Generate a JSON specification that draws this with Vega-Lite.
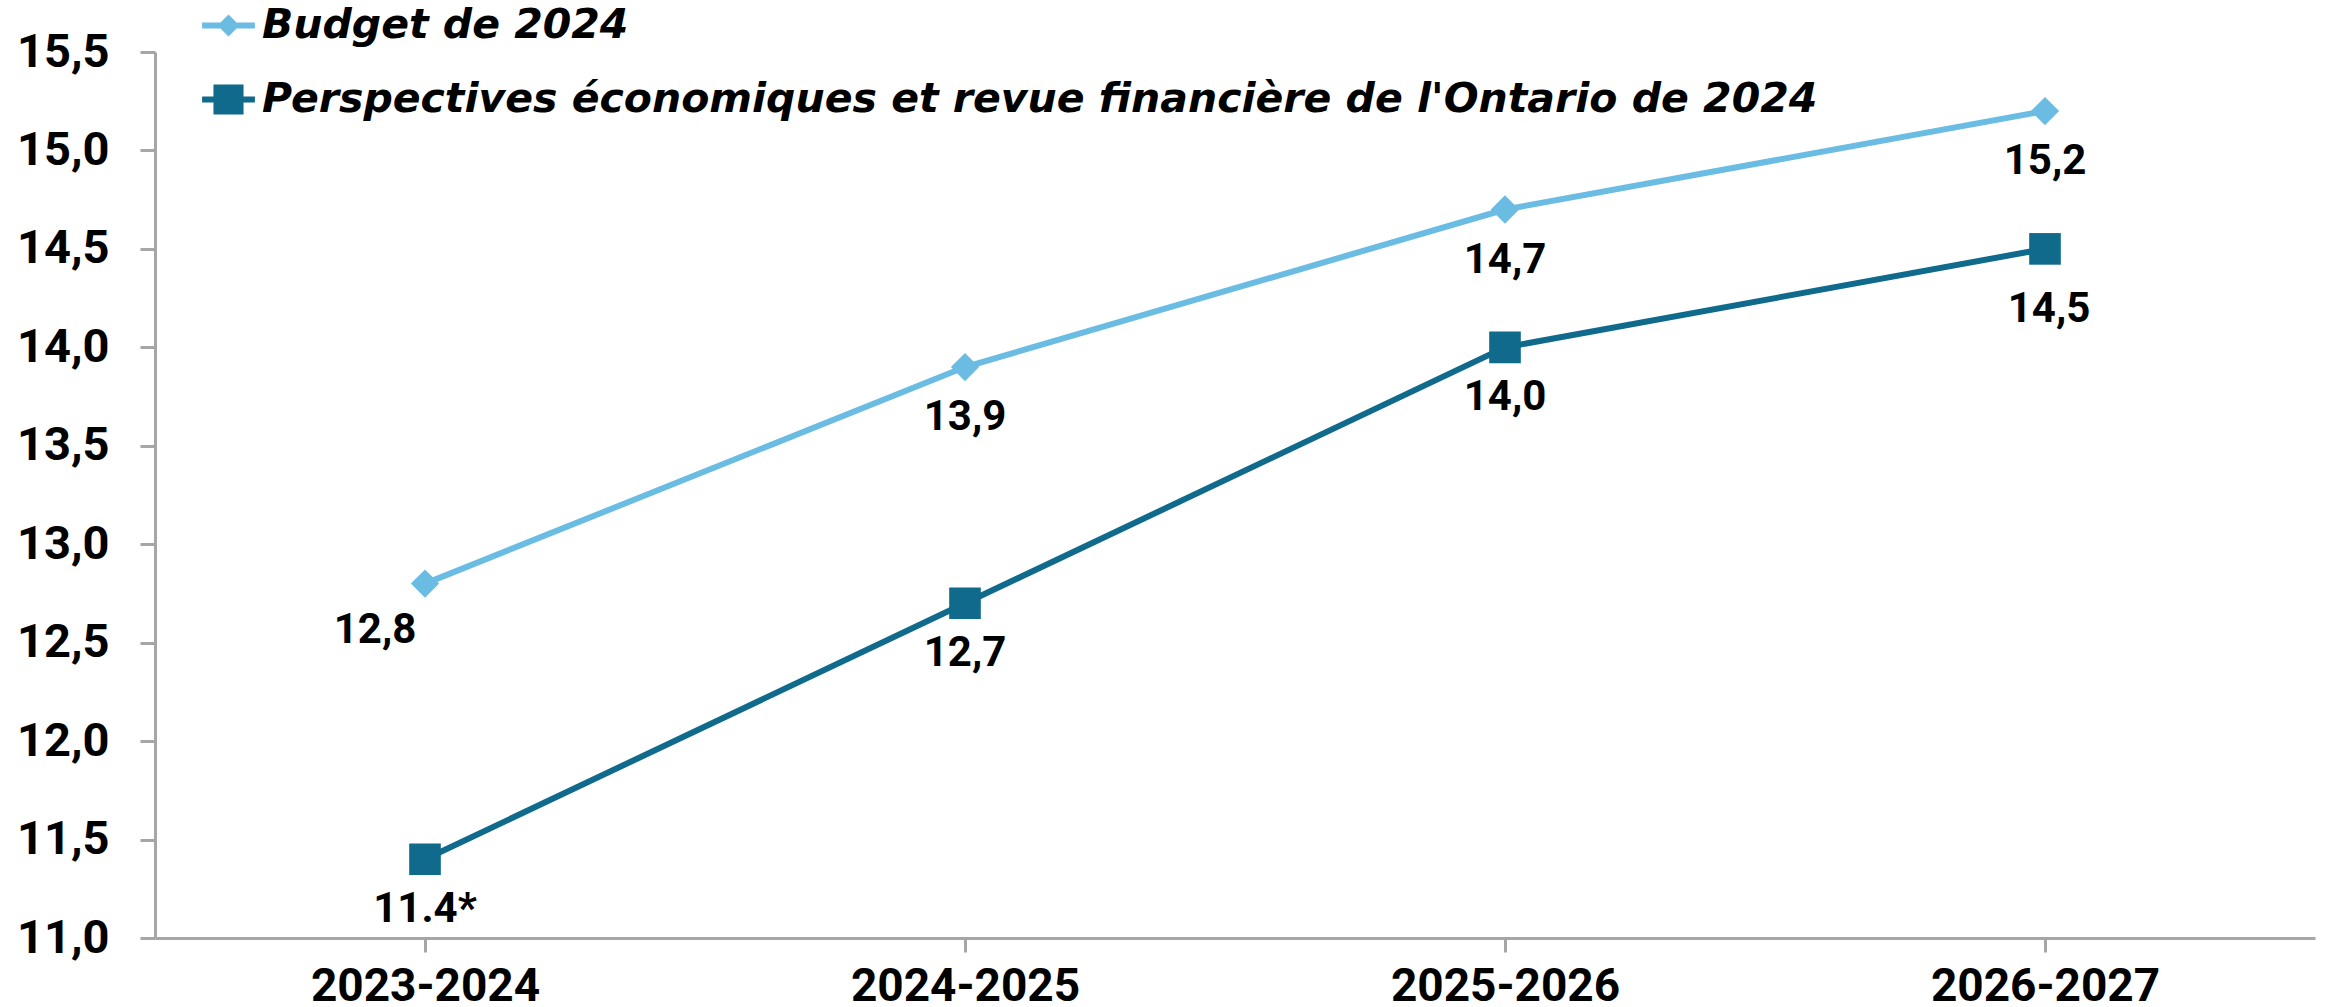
{
  "$schema": "https://vega.github.io/schema/vega-lite/v6.json",
  "autosize": {"type": "none"},
  "width": 2160,
  "height": 886,
  "padding": {"left": 155, "top": 52, "right": 13, "bottom": 69},
  "background": "white",
  "config": {
    "view": {"stroke": null},
    "font": "Roboto",
    "axis": {"labelFont": "Roboto", "labelFontWeight": "bold", "labelColor": "#000000", "domainColor": "#A6A6A6", "tickColor": "#A6A6A6", "domainWidth": 3, "tickWidth": 3, "grid": false, "title": null, "labelLimit": 0}
  },
  "data": {
    "values": [
      {"period": "2023-2024", "series": "Budget de 2024", "value": 12.8, "label": "12,8"},
      {"period": "2024-2025", "series": "Budget de 2024", "value": 13.9, "label": "13,9"},
      {"period": "2025-2026", "series": "Budget de 2024", "value": 14.7, "label": "14,7"},
      {"period": "2026-2027", "series": "Budget de 2024", "value": 15.2, "label": "15,2"},
      {"period": "2023-2024", "series": "Perspectives économiques et revue financière de l'Ontario de 2024", "value": 11.4, "label": "11.4*"},
      {"period": "2024-2025", "series": "Perspectives économiques et revue financière de l'Ontario de 2024", "value": 12.7, "label": "12,7"},
      {"period": "2025-2026", "series": "Perspectives économiques et revue financière de l'Ontario de 2024", "value": 14.0, "label": "14,0"},
      {"period": "2026-2027", "series": "Perspectives économiques et revue financière de l'Ontario de 2024", "value": 14.5, "label": "14,5"}
    ]
  },
  "encoding": {
    "x": {
      "field": "period", "type": "ordinal",
      "scale": {"type": "point", "padding": 0.5},
      "axis": {"labelAngle": 0, "labelFontSize": 46, "tickSize": 14, "labelPadding": 12}
    },
    "y": {
      "field": "value", "type": "quantitative",
      "scale": {"domain": [11, 15.5], "nice": false, "zero": false},
      "axis": {"values": [11, 11.5, 12, 12.5, 13, 13.5, 14, 14.5, 15, 15.5], "labelExpr": "replace(format(datum.value, '.1f'), '.', ',')", "labelFontSize": 47, "tickSize": 15, "labelPadding": 31}
    }
  },
  "layer": [
    {
      "mark": {"type": "point", "filled": true, "opacity": 0},
      "encoding": {
        "fill": {
          "field": "series", "type": "nominal",
          "scale": {"range": ["#6BBCE3", "#0F6A8B"]},
          "legend": {"orient": "none", "legendX": 53, "legendY": -47, "title": null, "symbolSize": 1024, "symbolOpacity": 1, "symbolStrokeWidth": 0, "labelFont": "DejaVu Sans", "labelFontSize": 41, "labelFontStyle": "italic", "labelFontWeight": "bold", "labelColor": "#000000", "labelOffset": 13, "rowPadding": 32, "padding": 0, "labelLimit": 3000}
        },
        "shape": {
          "field": "series", "type": "nominal",
          "scale": {"range": ["M-1.65,-0.19L1.65,-0.19L1.65,0.19L-1.65,0.19Z M0,-0.69L0.69,0L0,0.69L-0.69,0Z", "M-1.65,-0.19L1.65,-0.19L1.65,0.19L-1.65,0.19Z M-0.94,-0.94L0.94,-0.94L0.94,0.94L-0.94,0.94Z"]},
          "legend": {"orient": "none", "legendX": 53, "legendY": -47, "title": null, "symbolSize": 1024, "symbolOpacity": 1, "symbolStrokeWidth": 0, "labelFont": "DejaVu Sans", "labelFontSize": 41, "labelFontStyle": "italic", "labelFontWeight": "bold", "labelColor": "#000000", "labelOffset": 13, "rowPadding": 32, "padding": 0, "labelLimit": 3000}
        }
      }
    },
    {
      "mark": {"type": "line", "strokeWidth": 6},
      "encoding": {
        "stroke": {
          "field": "series", "type": "nominal",
          "scale": {"range": ["#6BBCE3", "#0F6A8B"]},
          "legend": null
        }
      }
    },
    {
      "transform": [{"filter": "datum.series == 'Budget de 2024'"}],
      "mark": {"type": "point", "filled": true, "opacity": 1, "size": 800, "shape": "diamond", "color": "#6BBCE3"}
    },
    {
      "transform": [{"filter": "datum.series != 'Budget de 2024'"}],
      "mark": {"type": "point", "filled": true, "opacity": 1, "size": 1000, "shape": "square", "color": "#0F6A8B"}
    },
    {
      "transform": [{"filter": "datum.label != '12,8' && datum.label != '14,5'"}],
      "mark": {"type": "text", "font": "Roboto", "fontWeight": "bold", "fontSize": 42, "color": "#000000", "baseline": "middle", "dy": 50},
      "encoding": {"text": {"field": "label"}}
    },
    {
      "transform": [{"filter": "datum.label == '14,5'"}],
      "mark": {"type": "text", "font": "Roboto", "fontWeight": "bold", "fontSize": 42, "color": "#000000", "baseline": "middle", "dy": 60, "dx": 4},
      "encoding": {"text": {"field": "label"}}
    },
    {
      "transform": [{"filter": "datum.label == '12,8'"}],
      "mark": {"type": "text", "font": "Roboto", "fontWeight": "bold", "fontSize": 42, "color": "#000000", "baseline": "middle", "dy": 46, "dx": -50},
      "encoding": {"text": {"field": "label"}}
    }
  ]
}
